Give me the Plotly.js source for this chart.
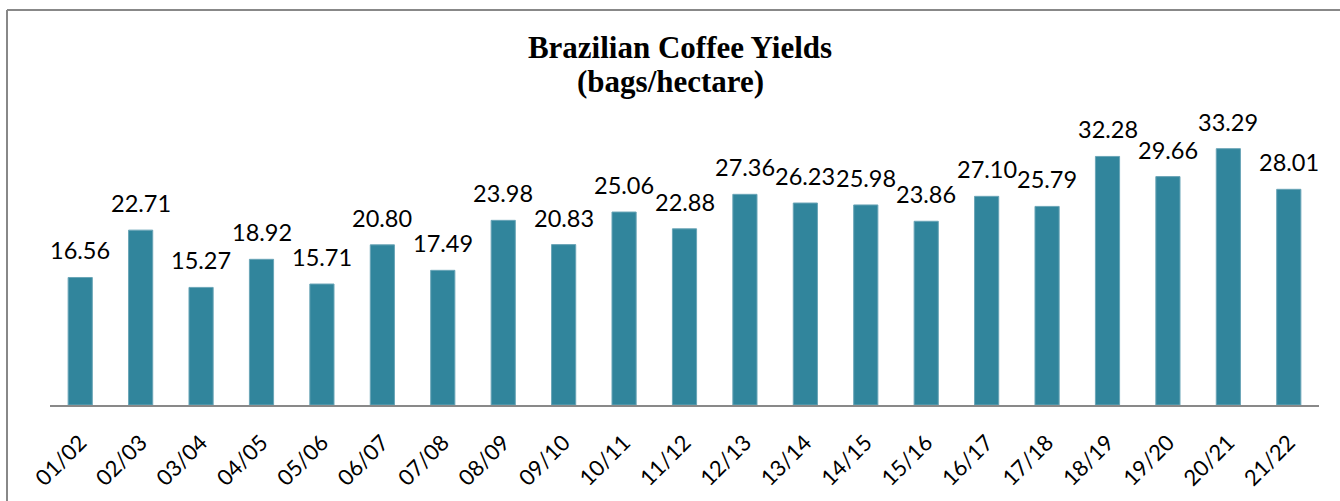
<!DOCTYPE html>
<html>
<head>
<meta charset="utf-8">
<script src="https://cdn.plot.ly/plotly-3.0.1.min.js"></script>
<style>html,body{margin:0;padding:0;background:#fff;overflow:hidden}</style>
</head>
<body>
<div id="chart" style="width:1340px;height:501px"></div>
<script>
var seasons = ["01/02","02/03","03/04","04/05","05/06","06/07","07/08","08/09","09/10","10/11","11/12","12/13","13/14","14/15","15/16","16/17","17/18","18/19","19/20","20/21","21/22"];
var yields = [16.56,22.71,15.27,18.92,15.71,20.80,17.49,23.98,20.83,25.06,22.88,27.36,26.23,25.98,23.86,27.10,25.79,32.28,29.66,33.29,28.01];
var titleLine1 = "Brazilian Coffee Yields";
var titleLine2 = "(bags/hectare)";

var W = 1340, H = 501;
var M = {l: 50, r: 21, t: 97, b: 96};
var pw = W - M.l - M.r, ph = H - M.t - M.b;
function px(x){ return (x - M.l) / pw; }
function py(y){ return (H - M.b - y) / ph; }

var labelAnns = seasons.map(function(s, i){
  return {
    x: s, y: yields[i], xref: 'x', yref: 'y',
    text: yields[i].toFixed(2), showarrow: false,
    yanchor: 'bottom', xanchor: 'center', yshift: 11,
    font: {family: 'Lato, "Open Sans", sans-serif', size: 23.5, color: '#000'}
  };
});
labelAnns.push({
  xref: 'paper', yref: 'paper', x: px(670), y: py(81.5),
  xanchor: 'center', yanchor: 'middle', showarrow: false,
  text: '<b>' + titleLine2 + '</b>',
  font: {family: '"Liberation Serif", "Times New Roman", serif', size: 31, color: '#000'}
});

var trace = {
  type: 'bar', x: seasons, y: yields,
  marker: {color: '#31859C', line: {color: '#6aa5b7', width: 1}},
  hoverinfo: 'x+y'
};

var layout = {
  width: W, height: H, margin: M,
  paper_bgcolor: '#fff', plot_bgcolor: '#fff',
  showlegend: false, bargap: 0.6,
  title: {
    text: '<b>' + titleLine1 + '</b>',
    xref: 'container', yref: 'container', x: 680 / W, xanchor: 'center',
    y: 1 - 47.5 / H, yanchor: 'middle',
    font: {family: '"Liberation Serif", "Times New Roman", serif', size: 31, color: '#000'}
  },
  xaxis: {
    type: 'category', range: [-0.5, seasons.length - 0.5],
    showline: true, linecolor: '#898989', linewidth: 2,
    showgrid: false, zeroline: false,
    ticks: 'outside', ticklen: 14, tickcolor: 'rgba(0,0,0,0)',
    tickangle: -45,
    tickfont: {family: 'Lato, "Open Sans", sans-serif', size: 22, color: '#000'}
  },
  yaxis: {
    range: [0, 40], visible: false, showgrid: false, zeroline: false
  },
  annotations: labelAnns,
  shapes: [
    {type: 'line', xref: 'paper', yref: 'paper', x0: px(7), x1: px(7), y0: py(10), y1: py(520), line: {color: '#888', width: 2}},
    {type: 'line', xref: 'paper', yref: 'paper', x0: px(7), x1: px(1360), y0: py(10), y1: py(10), line: {color: '#888', width: 2}}
  ]
};

Plotly.newPlot('chart', [trace], layout, {staticPlot: true, displayModeBar: false});
</script>
</body>
</html>
